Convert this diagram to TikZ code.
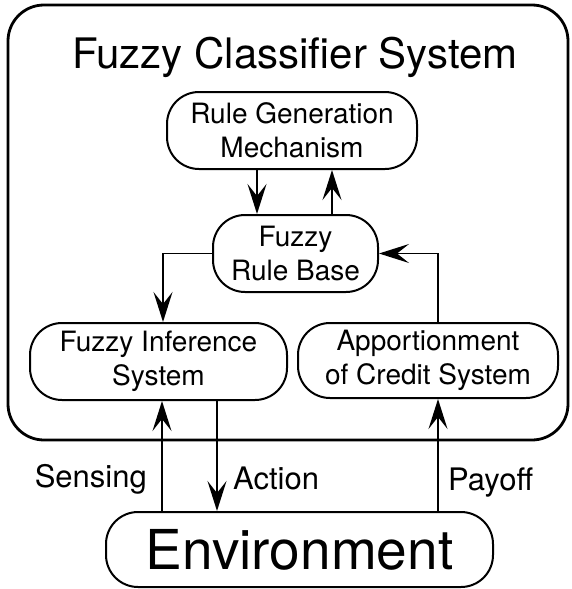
\documentclass[tikz,border=0pt]{standalone}
\usepackage{fontspec}
\setmainfont{TeX Gyre Heros}
\usetikzlibrary{arrows.meta}
\begin{document}
\begin{tikzpicture}[x=1pt,y=-1pt,
  box/.style={draw, line width=2pt, rounded corners=32pt, align=center,
    inner sep=0pt, font=\fontsize{28}{34}\selectfont},
  arr/.style={line width=1.7pt, -{Stealth[length=30pt,width=19pt,inset=12pt]}},
  lbl/.style={font=\fontsize{31}{36}\selectfont, inner sep=0pt}]
\useasboundingbox (0,0) rectangle (571,589);

% enclosing system frame and its title
\node[draw, line width=2.8pt, rounded corners=36pt, minimum width=560pt,
  minimum height=435pt, inner sep=0pt] (sys) at (288,222.5) {};
\node[anchor=base, inner sep=0pt, font=\fontsize{42}{48}\selectfont] (title)
  at (295,68) {Fuzzy Classifier System};

% components
\node[box, minimum width=250pt, minimum height=77pt] (rgm) at (292,130.5)
  {Rule Generation\\Mechanism};
\node[box, minimum width=165pt, minimum height=77pt] (frb) at (295.5,253.5)
  {Fuzzy\\Rule Base};
\node[box, minimum width=257pt, minimum height=77pt] (fis) at (158.5,361.5)
  {Fuzzy Inference\\System};
\node[box, minimum width=260pt, minimum height=75pt] (acs) at (428,360.5)
  {Apportionment\\of Credit System};
\node[box, minimum width=387pt, minimum height=75pt,
  font=\fontsize{55}{60}\selectfont] (env) at (299.5,549.5) {Environment};

% columns used by the vertical connectors
\coordinate (xdown) at (257,0);
\coordinate (xup) at (332,0);
\coordinate (xinf) at (163,0);
\coordinate (xsense) at (162,0);
\coordinate (xact) at (217,0);
\coordinate (xpay) at (438,0);

% connectors
\draw[arr] (rgm.south -| xdown) -- (frb.north -| xdown);
\draw[arr] (frb.north -| xup) -- (rgm.south -| xup);
\draw[arr] (frb.west) -| (fis.north -| xinf);
\draw[arr] (acs.north -| xpay) |- (frb.east);
\draw[arr] (env.north -| xsense) -- (fis.south -| xsense);
\draw[arr] (fis.south -| xact) -- (env.north -| xact);
\draw[arr] (env.north -| xpay) -- (acs.south -| xpay);

% connector labels
\node[lbl, anchor=base east] (lsense) at (147,487) {Sensing};
\node[lbl, anchor=base west] (lact) at (233,489) {Action};
\node[lbl, anchor=base west] (lpay) at (448,490) {Payoff};
\end{tikzpicture}
\end{document}
